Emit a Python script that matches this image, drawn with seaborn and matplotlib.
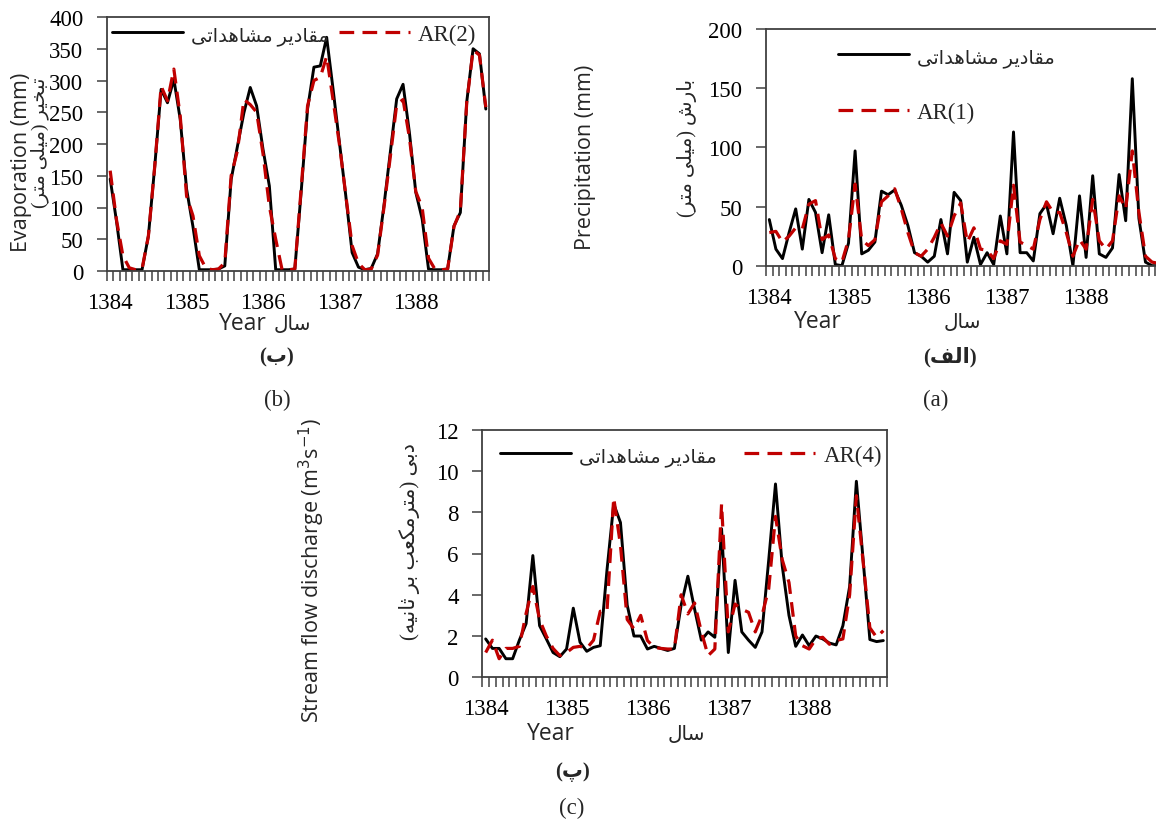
import numpy as np
import pandas as pd
import seaborn as sns
import matplotlib.pyplot as plt

# month index 0..59 (1384 - 1388)
months = np.arange(60)
year_ticks = [0, 12, 24, 36, 48]
year_labels = ["1384", "1385", "1386", "1387", "1388"]

evap_obs = [145, 78, 2, 2, 2, 2, 55, 165, 286, 265, 302, 239, 129, 70, 2, 2, 2, 3, 8, 144,
            197, 249, 289, 260, 192, 134, 2, 2, 2, 3, 125, 255, 321, 323, 368, 287, 203, 119, 29, 6,
            2, 4, 27, 103, 187, 271, 294, 218, 124, 82, 3, 2, 2, 3, 71, 92, 266, 350, 342, 255]
evap_ar2 = [158, 80, 24, 5, 2, 3, 55, 165, 291, 268, 318, 244, 118, 87, 24, 5, 2, 3, 13, 150,
            190, 270, 262, 250, 185, 102, 50, 2, 2, 3, 130, 260, 300, 305, 338, 270, 200, 120, 40, 12,
            2, 3, 25, 100, 180, 262, 270, 210, 125, 100, 20, 3, 2, 3, 70, 95, 265, 348, 340, 258]

prec_obs = [39, 14, 6, 28, 48, 14, 56, 45, 11, 43, 1, 0, 19, 97, 10, 13, 20, 63, 60, 64,
            51, 34, 11, 8, 3, 8, 39, 10, 62, 55, 3, 24, 1, 11, 1, 42, 10, 113, 11, 11,
            4, 44, 52, 27, 57, 34, 0, 59, 7, 76, 10, 7, 15, 77, 38, 158, 40, 3, 0, 0]
prec_ar1 = [28, 29, 20, 25, 32, 31, 52, 55, 22, 26, 6, 3, 22, 69, 22, 17, 22, 54, 59, 65,
            48, 28, 11, 8, 14, 24, 36, 25, 42, 53, 20, 32, 14, 13, 6, 21, 18, 68, 20, 17,
            14, 39, 54, 45, 45, 28, 8, 22, 14, 56, 21, 14, 21, 59, 48, 97, 45, 8, 3, 2]

flow_obs = [1.86, 1.4, 1.4, 0.9, 0.9, 1.8, 2.6, 5.9, 2.5, 1.86, 1.2, 1.0, 1.37, 3.35, 1.7, 1.26, 1.45, 1.53, 5.2, 8.4,
            7.5, 3.5, 2.0, 2.0, 1.37, 1.5, 1.4, 1.3, 1.4, 3.5, 4.9, 3.3, 1.8, 2.2, 1.94, 7.2, 1.2, 4.7, 2.2, 1.8,
            1.45, 2.2, 5.7, 9.37, 5.4, 3.0, 1.5, 2.05, 1.53, 2.0, 1.86, 1.66, 1.57, 2.5, 4.4, 9.5, 5.7, 1.83, 1.73, 1.78]
flow_ar4 = [1.2, 1.8, 0.9, 1.4, 1.4, 1.5, 3.1, 4.4, 2.8, 2.0, 1.4, 1.05, 1.2, 1.45, 1.5, 1.4, 1.8, 3.2, 3.2, 8.7,
            6.4, 2.8, 2.35, 3.0, 1.78, 1.45, 1.4, 1.37, 1.37, 4.0, 3.07, 3.6, 2.2, 1.05, 1.37, 8.4, 2.2, 3.55, 3.3, 3.15,
            2.2, 3.0, 4.3, 7.8, 5.7, 4.6, 2.0, 1.53, 1.37, 1.86, 1.94, 1.6, 1.78, 1.86, 4.0, 8.8, 5.6, 2.4, 1.94, 2.26]

# Arabic presentation forms: isolated, final, initial, medial (None = does not join forward)
FORMS = {
    'ا': ('\uFE8D', '\uFE8E', None, None),
    'ب': ('\uFE8F', '\uFE90', '\uFE91', '\uFE92'),
    'پ': ('\uFB56', '\uFB57', '\uFB58', '\uFB59'),
    'ت': ('\uFE95', '\uFE96', '\uFE97', '\uFE98'),
    'ث': ('\uFE99', '\uFE9A', '\uFE9B', '\uFE9C'),
    'خ': ('\uFEA5', '\uFEA6', '\uFEA7', '\uFEA8'),
    'د': ('\uFEA9', '\uFEAA', None, None),
    'ر': ('\uFEAD', '\uFEAE', None, None),
    'س': ('\uFEB1', '\uFEB2', '\uFEB3', '\uFEB4'),
    'ش': ('\uFEB5', '\uFEB6', '\uFEB7', '\uFEB8'),
    'ع': ('\uFEC9', '\uFECA', '\uFECB', '\uFECC'),
    'ف': ('\uFED1', '\uFED2', '\uFED3', '\uFED4'),
    'ق': ('\uFED5', '\uFED6', '\uFED7', '\uFED8'),
    'ک': ('\uFB8E', '\uFB8F', '\uFB90', '\uFB91'),
    'ل': ('\uFEDD', '\uFEDE', '\uFEDF', '\uFEE0'),
    'م': ('\uFEE1', '\uFEE2', '\uFEE3', '\uFEE4'),
    'ن': ('\uFEE5', '\uFEE6', '\uFEE7', '\uFEE8'),
    'ه': ('\uFEE9', '\uFEEA', '\uFEEB', '\uFEEC'),
    'ی': ('\uFBFC', '\uFBFD', '\uFBFE', '\uFBFF'),
}


def farsi(text):
    # crude shaping + visual reordering, matplotlib has no RTL layout
    out = []
    for k, ch in enumerate(text):
        if ch not in FORMS:
            out.append(ch)
            continue
        prev = text[k - 1] if k > 0 else ''
        nxt = text[k + 1] if k + 1 < len(text) else ''
        iso, fin, ini, med = FORMS[ch]
        jp = prev in FORMS and FORMS[prev][2] is not None
        jn = nxt in FORMS and ini is not None
        if jp and jn:
            out.append(med)
        elif jp:
            out.append(fin)
        elif jn:
            out.append(ini)
        else:
            out.append(iso)
    mirror = {'(': ')', ')': '('}
    return ''.join(mirror.get(c, c) for c in reversed(out))


obs_label = farsi("مقادیر مشاهداتی")

sns.set_theme(style="white")
plt.rcParams['font.family'] = ['Liberation Serif', 'DejaVu Sans']
plt.rcParams['axes.edgecolor'] = '#404040'
plt.rcParams['xtick.color'] = '#404040'
plt.rcParams['ytick.color'] = '#404040'
plt.rcParams['xtick.labelcolor'] = 'black'
plt.rcParams['ytick.labelcolor'] = 'black'

W, H = 1156, 820
fig = plt.figure(figsize=(W / 100, H / 100), dpi=100)

RED = '#C00000'
SANS = ['Open Sans', 'DejaVu Sans']
SERIF = ['Liberation Serif', 'DejaVu Sans']


def box(l, t, r, b):
    return [l / W, 1 - b / H, (r - l) / W, (b - t) / H]


def draw_panel(rect, obs, model, model_name, ymax, ystep):
    ax = fig.add_axes(rect)
    df = pd.DataFrame({"month": months, "obs": obs, "model": model})
    sns.lineplot(data=df, x="month", y="obs", color="black", lw=2.1, ax=ax, label=obs_label)
    sns.lineplot(data=df, x="month", y="model", color=RED, lw=2.3, ax=ax,
                 linestyle=(0, (4.6, 2.6)), label=model_name)
    ax.set_xlim(-0.5, 59.5)
    ax.set_ylim(0, ymax)
    ax.set_yticks(np.arange(0, ymax + ystep / 2, ystep))
    ax.set_xticks(year_ticks)
    ax.set_xticklabels(year_labels)
    ax.set_xticks(np.arange(-0.5, 60, 1), minor=True)
    ax.tick_params(axis='x', which='major', length=0, pad=15, labelsize=16.5)
    ax.tick_params(axis='x', which='minor', length=7, width=1.1, direction='out', bottom=True)
    ax.tick_params(axis='y', which='major', length=7, width=1.1, direction='out', left=True,
                   pad=10, labelsize=16.5)
    ax.set_xlabel("")
    ax.set_ylabel("")
    for s in ax.spines.values():
        s.set_linewidth(1.3)
    ax.grid(False)
    return ax


def legend(ax, ncol, x, y, colsp=0.5, lsp=0.5):
    leg = ax.legend(ncol=ncol, loc='center left', bbox_to_anchor=(x, y), frameon=False,
                    handlelength=3.1, handletextpad=0.35, columnspacing=colsp,
                    labelspacing=lsp, borderpad=0, borderaxespad=0, prop={'size': 16.5})
    leg.get_texts()[0].set_fontsize(14)


def txt(x, y, s, **kw):
    fig.text(x / W, 1 - y / H, s, ha='center', va='center', **kw)


# (b) evaporation
ax_b = draw_panel(box(107, 18, 489, 272), evap_obs, evap_ar2, "AR(2)", 400, 50)
legend(ax_b, 2, 0.013, 0.93, colsp=0.45)

# (a) precipitation, right side cut by the page edge
ax_a = draw_panel(box(766, 30, 1162, 266.7), prec_obs, prec_ar1, "AR(1)", 200, 50)
legend(ax_a, 1, 0.182, 0.765, lsp=1.55)

# (c) stream flow
ax_c = draw_panel(box(482.3, 430.7, 886.7, 678.3), flow_obs, flow_ar4, "AR(4)", 12, 2)
legend(ax_c, 2, 0.044, 0.895, colsp=1.2)

# axis titles
txt(22, 162, "Evaporation (mm)", rotation=90, fontsize=15.5, family=SANS)
txt(40, 143, farsi("تبخیر (میلی متر)"), rotation=90, fontsize=14, family=SERIF)
txt(585, 157, "Precipitation (mm)", rotation=90, fontsize=15.5, family=SANS)
txt(687, 148, farsi("بارش (میلی متر)"), rotation=90, fontsize=14.5, family=SERIF)
txt(312, 570, "Stream flow discharge (m$^{3}$s$^{-1}$)", rotation=90, fontsize=15.5, family=SANS)
txt(410, 542, farsi("دبی (مترمکعب بر ثانیه)"), rotation=90, fontsize=15, family=SERIF)

for xe, xf, yy in [(243, 292, 324), (818, 962, 322), (551, 686, 734)]:
    txt(xe, yy, "Year", fontsize=16.5, family=SANS)
    txt(xf, yy + 2, farsi("سال"), fontsize=14.5, family=SERIF)

txt(277, 357, farsi("(ب)"), fontsize=15, fontweight='bold', family=SERIF)
txt(277, 400, "(b)", fontsize=16.5, family=SERIF)
txt(950, 357, farsi("(الف)"), fontsize=15, fontweight='bold', family=SERIF)
txt(936, 400, "(a)", fontsize=16.5, family=SERIF)
txt(572, 772, farsi("(پ)"), fontsize=15, fontweight='bold', family=SERIF)
txt(572, 808, "(c)", fontsize=16.5, family=SERIF)

fig.savefig("out.png", dpi=100)
